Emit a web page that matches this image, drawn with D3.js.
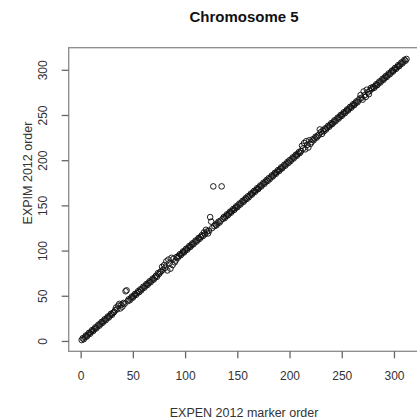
<!DOCTYPE html>
<html>
<head>
  <meta charset="utf-8">
  <title>Chromosome 5</title>
  <style>
    body { margin: 0; background: #fff; }
    text { font-family: 'Liberation Sans', Arial, sans-serif; }
  </style>
</head>
<body>
  <div id='chart'></div>
  <script src="https://d3js.org/d3.v7.min.js"></script>
  <script>
    // EXPEN 2012 marker order (x) and EXPIM 2012 order (y)
    let expenOrder = [
      1, 2, 3, 4, 5, 6, 7, 8, 9, 10, 11, 12, 13, 14, 15, 16, 17, 18, 19, 20,
      21, 22, 23, 24, 25, 26, 27, 28, 29, 30, 31, 32, 33, 34, 35, 36, 37, 38, 39, 40,
      41, 42, 43, 44, 45, 46, 47, 48, 49, 50, 51, 52, 53, 54, 55, 56, 57, 58, 59, 60,
      61, 62, 63, 64, 65, 66, 67, 68, 69, 70, 71, 72, 73, 74, 75, 76, 77, 78, 79, 80,
      81, 82, 83, 84, 85, 86, 87, 88, 89, 90, 91, 92, 93, 94, 95, 96, 97, 98, 99, 100,
      101, 102, 103, 104, 105, 106, 107, 108, 109, 110, 111, 112, 113, 114, 115, 116, 117, 118, 119, 120,
      121, 122, 123, 124, 125, 126, 127, 128, 129, 130, 131, 132, 133, 134, 135, 136, 137, 138, 139, 140,
      141, 142, 143, 144, 145, 146, 147, 148, 149, 150, 151, 152, 153, 154, 155, 156, 157, 158, 159, 160,
      161, 162, 163, 164, 165, 166, 167, 168, 169, 170, 171, 172, 173, 174, 175, 176, 177, 178, 179, 180,
      181, 182, 183, 184, 185, 186, 187, 188, 189, 190, 191, 192, 193, 194, 195, 196, 197, 198, 199, 200,
      201, 202, 203, 204, 205, 206, 207, 208, 209, 210, 211, 212, 213, 214, 215, 216, 217, 218, 219, 220,
      221, 222, 223, 224, 225, 226, 227, 228, 229, 230, 231, 232, 233, 234, 235, 236, 237, 238, 239, 240,
      241, 242, 243, 244, 245, 246, 247, 248, 249, 250, 251, 252, 253, 254, 255, 256, 257, 258, 259, 260,
      261, 262, 263, 264, 265, 266, 267, 268, 269, 270, 271, 272, 273, 274, 275, 276, 277, 278, 279, 280,
      281, 282, 283, 284, 285, 286, 287, 288, 289, 290, 291, 292, 293, 294, 295, 296, 297, 298, 299, 300,
      301, 302, 303, 304, 305, 306, 307, 308, 309, 310, 311, 312
    ];
    let expimOrder = [
      1, 3, 2, 4, 6, 5, 7, 9, 8, 10, 12, 11, 13, 15, 14, 16, 18, 17, 19, 21,
      20, 22, 24, 23, 25, 27, 26, 28, 30, 29, 31, 32, 34, 37, 35, 39, 41, 36, 40, 38,
      42, 41, 55, 56, 44, 46, 45, 47, 49, 48, 50, 52, 51, 53, 55, 54, 57, 56, 58, 60,
      59, 61, 63, 62, 64, 66, 65, 67, 69, 68, 70, 72, 71, 75, 74, 76, 77, 82, 79, 84,
      81, 88, 78, 90, 86, 80, 92, 84, 91, 87, 89, 93, 92, 94, 96, 95, 97, 99, 98, 100,
      102, 101, 103, 105, 104, 106, 108, 107, 109, 111, 110, 112, 114, 113, 115, 117, 116, 120, 118, 123,
      121, 119, 122, 137, 132, 125, 171, 127, 129, 128, 130, 132, 131, 133, 171, 135, 137, 136, 138, 140,
      139, 141, 143, 142, 144, 146, 145, 147, 149, 148, 150, 152, 151, 153, 155, 154, 156, 158, 157, 160,
      159, 161, 163, 162, 164, 166, 165, 167, 169, 168, 170, 172, 171, 173, 175, 174, 176, 178, 177, 180,
      179, 181, 183, 182, 184, 186, 185, 187, 189, 188, 190, 192, 191, 193, 195, 194, 196, 198, 197, 200,
      199, 201, 203, 202, 204, 206, 205, 207, 209, 208, 210, 216, 213, 219, 212, 221, 217, 214, 222, 218,
      220, 223, 222, 224, 226, 225, 227, 228, 234, 231, 229, 233, 232, 235, 234, 236, 238, 237, 239, 241,
      240, 242, 244, 243, 245, 247, 246, 248, 250, 249, 251, 253, 252, 254, 256, 255, 257, 259, 258, 260,
      262, 261, 263, 265, 264, 266, 268, 272, 269, 267, 276, 272, 270, 278, 275, 273, 277, 280, 279, 281,
      280, 282, 284, 283, 285, 287, 286, 288, 290, 289, 291, 293, 292, 294, 296, 295, 297, 299, 298, 300,
      302, 301, 303, 305, 304, 306, 308, 307, 309, 311, 310, 312
    ];
    let xTicks = [0, 50, 100, 150, 200, 250, 300];
    let yTicks = [0, 50, 100, 150, 200, 250, 300];

    let svgWidth = 417;
    let svgHeight = 419;
    let plot = { left: 68.7, right: 419.5, top: 47.7, bottom: 351.3 };

    function translate(x, y) {
      return 'translate(' + x + ',' + y + ')';
    }

    // R style: data range padded by 4% on each side
    function padded(ext) {
      let d = (ext[1] - ext[0]) * 0.04;
      return [ext[0] - d, ext[1] + d];
    }

    let points = expenOrder.map((d, i) => ({ x: d, y: expimOrder[i] }));

    let x = d3.scaleLinear()
      .domain(padded(d3.extent(expenOrder)))
      .range([plot.left, plot.right]);
    let y = d3.scaleLinear()
      .domain(padded(d3.extent(expimOrder)))
      .range([plot.bottom, plot.top]);

    let svg = d3.select('#chart').append('svg')
      .attr('width', svgWidth)
      .attr('height', svgHeight);

    // points
    svg.append('g')
      .selectAll('circle')
      .data(points)
      .enter()
      .append('circle')
      .attr('cx', d => x(d.x))
      .attr('cy', d => y(d.y))
      .attr('r', 2.8)
      .style('fill', 'none')
      .style('stroke', '#111')
      .style('stroke-width', 0.95);

    // box
    svg.append('rect')
      .attr('x', plot.left)
      .attr('y', plot.top)
      .attr('width', plot.right - plot.left)
      .attr('height', plot.bottom - plot.top)
      .style('fill', 'none')
      .style('stroke', '#8a8a8a')
      .style('stroke-width', 1.3);

    // x axis
    let xAxis = svg.append('g')
      .attr('transform', translate(0, plot.bottom))
      .call(d3.axisBottom(x).tickValues(xTicks).tickSize(7).tickPadding(13));
    xAxis.select('.domain').remove();

    // y axis, labels parallel to the axis
    let yAxis = svg.append('g')
      .attr('transform', translate(plot.left, 0))
      .call(d3.axisLeft(y).tickValues(yTicks).tickSize(7));
    yAxis.select('.domain').remove();
    yAxis.selectAll('.tick text')
      .attr('x', null)
      .attr('dy', null)
      .attr('text-anchor', 'middle')
      .attr('transform', 'translate(-21.7,0) rotate(-90)');

    svg.selectAll('.tick line').style('stroke', '#666').style('stroke-width', 1.3);
    svg.selectAll('.tick text')
      .style('font-family', "'Liberation Sans', Arial, sans-serif")
      .style('font-size', '12px')
      .style('fill', '#333');

    // titles
    svg.append('text')
      .text('Chromosome 5')
      .attr('x', (plot.left + plot.right) / 2)
      .attr('y', 22)
      .attr('text-anchor', 'middle')
      .style('font-size', '15px')
      .style('font-weight', 'bold')
      .style('fill', '#111');

    svg.append('text')
      .text('EXPEN 2012 marker order')
      .attr('x', (plot.left + plot.right) / 2)
      .attr('y', 417)
      .attr('text-anchor', 'middle')
      .style('font-size', '12.5px')
      .style('fill', '#333');

    svg.append('text')
      .text('EXPIM 2012 order')
      .attr('transform', translate(32, 173) + ' rotate(-90)')
      .attr('text-anchor', 'middle')
      .style('font-size', '12.5px')
      .style('fill', '#333');
  </script>
</body>
</html>
